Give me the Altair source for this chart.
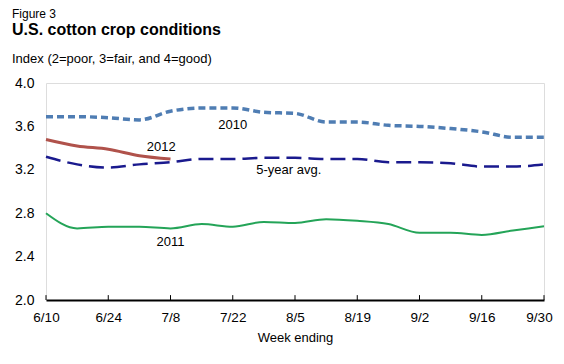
import altair as alt
import pandas as pd
import json

weeks = ["6/10", "6/17", "6/24", "7/1", "7/8", "7/15", "7/22", "7/29", "8/5",
         "8/12", "8/19", "8/26", "9/2", "9/9", "9/16", "9/23", "9/30"]
tick_labels = ["6/10", "6/24", "7/8", "7/22", "8/5", "8/19", "9/2", "9/16", "9/30"]

y2010 = [3.69, 3.69, 3.68, 3.66, 3.74, 3.77, 3.77, 3.73, 3.72, 3.64, 3.64, 3.61,
         3.60, 3.58, 3.55, 3.50, 3.50]
y5yr = [3.32, 3.25, 3.22, 3.25, 3.27, 3.30, 3.30, 3.31, 3.31, 3.30, 3.30, 3.27,
        3.27, 3.26, 3.23, 3.23, 3.25]
y2012 = [3.48, 3.42, 3.39, 3.33, 3.30]
y2011 = [2.80, 2.66, 2.675, 2.675, 2.66, 2.70, 2.675, 2.72, 2.71, 2.745, 2.73, 2.70,
         2.62, 2.62, 2.60, 2.64, 2.68]

label_text = ["2010", "2012", "5-year avg.", "2011"]
label_x = [6.0, 3.7, 7.8, 4.0]
label_y = [3.61, 3.41, 3.20, 2.53]

rows = []
for name, vals in [("2010", y2010), ("5yr", y5yr), ("2012", y2012), ("2011", y2011)]:
    for i, v in enumerate(vals):
        rows.append({"series": name, "week": i, "label": weeks[i], "value": v})
df = pd.DataFrame(rows)
lab_df = pd.DataFrame({"text": label_text, "x": label_x, "y": label_y})
ticks_df = pd.DataFrame({"week": list(range(0, 17, 2))})
one = pd.DataFrame({"a": [0]})

FONT = "Liberation Sans"
label_expr = "%s[round(datum.value/2)]" % json.dumps(tick_labels)

xscale = alt.Scale(domain=[0, 16], nice=False, zero=False)
yscale = alt.Scale(domain=[2.0, 4.0], nice=False, zero=False)

xaxis = alt.Axis(values=list(range(0, 17, 2)), labelExpr=label_expr, title="Week ending",
                 grid=False, ticks=False, domain=True, domainColor="black", domainWidth=2,
                 labelPadding=10, labelFlush=False, labelOverlap=False, labelBound=False,
                 labelOffset={"condition": {"test": "datum.value == 16", "value": -5},
                              "value": 0},
                 labelFontSize=13.5, labelColor="black", labelFont=FONT,
                 titleFont=FONT, titleFontSize=13, titleFontWeight="normal",
                 titleColor="black", titlePadding=8)
yaxis = alt.Axis(values=[2.0, 2.4, 2.8, 3.2, 3.6, 4.0], format=".1f", title=None,
                 grid=False, ticks=False, domain=False, labelPadding=12,
                 labelFlush=False, labelOverlap=False, labelBound=False,
                 labelFontSize=14, labelColor="black", labelFont=FONT)

base = alt.Chart(df)


def line(series, color, width, dash=None):
    kw = dict(color=color, strokeWidth=width, interpolate="monotone")
    if dash:
        kw["strokeDash"] = dash
    return base.transform_filter(alt.datum.series == series).mark_line(**kw).encode(
        x=alt.X("week:Q", scale=xscale, axis=xaxis),
        y=alt.Y("value:Q", scale=yscale, axis=yaxis),
    )


l2010 = line("2010", "#4F7DB3", 3.5, [7, 4])
l5 = line("5yr", "#1A1A8E", 2.5, [15, 7])
l2012 = line("2012", "#B0524B", 3)
l2011 = line("2011", "#24A458", 2)

ticks = alt.Chart(ticks_df).mark_rule(color="black", strokeWidth=1).encode(
    x=alt.X("week:Q", scale=xscale),
    y=alt.datum(2.0),
    y2=alt.datum(2.045),
)

labels = alt.Chart(lab_df).mark_text(font=FONT, fontSize=13, color="black").encode(
    x=alt.X("x:Q", scale=xscale),
    y=alt.Y("y:Q", scale=yscale),
    text="text:N",
)

fig = alt.Chart(one).mark_text(font=FONT, fontSize=12, align="left", baseline="top",
                               color="black").encode(
    x=alt.value(-34), y=alt.value(-74), text=alt.value("Figure 3"))
ttl = alt.Chart(one).mark_text(font=FONT, fontSize=16, fontWeight="bold", align="left",
                               color="black").encode(
    x=alt.value(-34), y=alt.value(-53), text=alt.value("U.S. cotton crop conditions"))
sub = alt.Chart(one).mark_text(font=FONT, fontSize=13, align="left", color="black").encode(
    x=alt.value(-34), y=alt.value(-24), text=alt.value("Index (2=poor, 3=fair, and 4=good)"))

chart = alt.layer(l2010, l5, l2012, l2011, ticks, labels, fig, ttl, sub).properties(
    width=498, height=217,
    autosize=alt.AutoSizeParams(type="none"),
    padding={"left": 38, "top": 75, "right": 12, "bottom": 56},
).configure_view(stroke="black", strokeWidth=1.5).configure(background="white")

chart.save("out.html", embed_options={"renderer": "svg", "actions": False})
